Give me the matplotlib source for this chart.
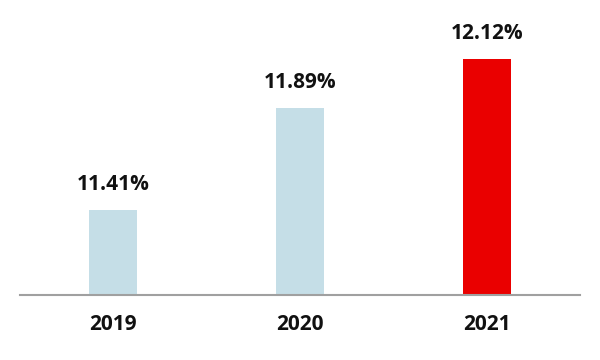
import matplotlib
matplotlib.use("Agg")
import matplotlib.pyplot as plt

# Данные
years = ["2019", "2020", "2021"]
values = [11.41, 11.89, 12.12]
colors = ["#c5dee7", "#c5dee7", "#ea0000"]

plt.rcParams['font.family'] = ['Open Sans', 'DejaVu Sans']

fig = plt.figure(figsize=(6, 3.6), dpi=100)
ax = fig.add_axes([20 / 600, 1 - 295 / 360, 560 / 600, 295.4 / 360])

x = range(len(years))
bars = ax.bar(x, values, width=0.257, color=colors, bottom=0)
ax.set_xlim(-0.5, 2.5)
ax.set_ylim(11.01, 12.4)

for xi, v in zip(x, values):
    ax.annotate(f"{v:.2f}%", (xi, v), xytext=(0, 11), textcoords="offset points",
                ha="center", va="bottom", fontsize=15, fontweight="bold", color="#111111")

ax.set_xticks(list(x))
ax.set_xticklabels(years, fontsize=15, fontweight="bold", color="#111111")
ax.tick_params(axis="x", length=0, pad=14)
ax.set_yticks([])

for s in ["top", "right", "left"]:
    ax.spines[s].set_visible(False)
ax.spines["bottom"].set_color("#a0a0a0")
ax.spines["bottom"].set_linewidth(1.5)

fig.savefig("out.png", dpi=100)
